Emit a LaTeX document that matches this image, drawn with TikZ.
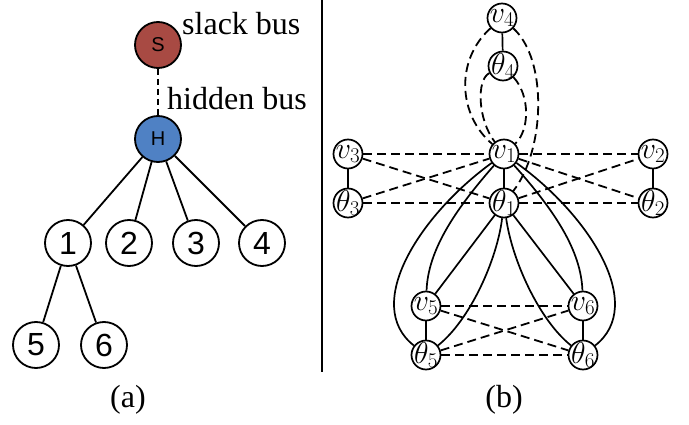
\RequirePackage{fix-cm}
\documentclass[tikz,border=0pt]{standalone}
\usepackage[no-math]{fontspec}
\setmainfont{Liberation Serif}
\newfontfamily\nodesans{Liberation Sans}

\definecolor{slackred}{HTML}{A84A43}
\definecolor{hiddenblue}{HTML}{4F81C4}

\tikzset{
  bus/.style={circle, draw, line width=1.8pt, minimum size=46pt, inner sep=0pt,
              font=\nodesans\fontsize{32}{32}\selectfont},
  letterbus/.style={bus, font=\nodesans\fontsize{20}{20}\selectfont},
  treeedge/.style={line width=1.8pt},
  hiddenedge/.style={line width=1.8pt, dash pattern=on 6pt off 4pt},
  var/.style={circle, draw, fill=white, line width=1.7pt, minimum size=29pt,
              inner sep=-4.5pt, font=\fontsize{30}{30}\selectfont},
  solidlink/.style={line width=1.7pt},
  dashlink/.style={line width=1.8pt, dash pattern=on 9pt off 5pt},
  caption/.style={inner sep=0pt, font=\fontsize{32}{32}\selectfont},
}

\begin{document}
\begin{tikzpicture}[x=1pt, y=-1pt]
\useasboundingbox (0,0) rectangle (689,425);

% ---------- (a): bus tree ----------
\node[letterbus, fill=slackred] (S) at (158,45) {S};
\node[letterbus, fill=hiddenblue] (H) at (158,139) {H};
\node[bus] (n1) at (68,243) {1};
\node[bus] (n2) at (129,243) {2};
\node[bus] (n3) at (196,243) {3};
\node[bus] (n4) at (262,243) {4};
\node[bus] (n5) at (36,345) {5};
\node[bus] (n6) at (104,345) {6};

\node[caption, anchor=base west] (slacklbl) at (182,35) {slack bus};
\node[caption, anchor=base west] (hiddenlbl) at (167,110) {hidden bus};

\draw[hiddenedge] (S) -- (H);
\draw[treeedge] (H) -- (n1);
\draw[treeedge] (H) -- (n2);
\draw[treeedge] (H) -- (n3);
\draw[treeedge] (H) -- (n4);
\draw[treeedge] (n1) -- (n5);
\draw[treeedge] (n1) -- (n6);

\node[caption] (capa) at (128,400) {(a)};

% separator between the two panels
\coordinate (septop) at (322,0);
\coordinate (sepbot) at (322,372);
\draw[line width=1.6pt] (septop) -- (sepbot);

% ---------- (b): variable graph ----------
\node[var] (v4) at (502,18) {$v_4$};
\node[var] (t4) at (503,66) {$\theta_4$};
\node[var] (v1) at (504,154) {$v_1$};
\node[var] (t1) at (504,203) {$\theta_1$};
\node[var] (v3) at (348,154) {$v_3$};
\node[var] (t3) at (348,203) {$\theta_3$};
\node[var] (v2) at (653,154) {$v_2$};
\node[var] (t2) at (653,203) {$\theta_2$};
\node[var] (v5) at (426,306) {$v_5$};
\node[var] (t5) at (426,355) {$\theta_5$};
\node[var] (v6) at (583,306) {$v_6$};
\node[var] (t6) at (583,355) {$\theta_6$};

% pairs of the same bus
\draw[solidlink] (v4) -- (t4);
\draw[solidlink] (v1) -- (t1);
\draw[solidlink] (v3) -- (t3);
\draw[solidlink] (v2) -- (t2);
\draw[solidlink] (v5) -- (t5);
\draw[solidlink] (v6) -- (t6);

% bus 4 to bus 1
\draw[dashlink] (v4) .. controls (455,60) and (458,115) .. (v1);
\draw[dashlink] (t4) .. controls (476,80) and (478,120) .. (v1);
\draw[dashlink] (t4) .. controls (530,95) and (530,130) .. (v1);
\draw[dashlink] (v4) .. controls (548,60) and (545,150) .. (t1);

% buses 3 and 2 to bus 1
\draw[dashlink] (v3) -- (v1);
\draw[dashlink] (t3) -- (t1);
\draw[dashlink] (v3) -- (t1);
\draw[dashlink] (t3) -- (v1);
\draw[dashlink] (v1) -- (v2);
\draw[dashlink] (t1) -- (t2);
\draw[dashlink] (v1) -- (t2);
\draw[dashlink] (t1) -- (v2);

% buses 5 and 6 to each other
\draw[dashlink] (v5) -- (v6);
\draw[dashlink] (t5) -- (t6);
\draw[dashlink] (v5) -- (t6);
\draw[dashlink] (t5) -- (v6);

% bus 1 to bus 5
\draw[solidlink] (v1) .. controls (455,210) and (428,250) .. (v5);
\draw[solidlink] (v1) .. controls (420,215) and (362,305) .. (t5);
\draw[solidlink] (t1) -- (v5);
\draw[solidlink] (t1) .. controls (497,260) and (470,320) .. (t5);

% bus 1 to bus 6
\draw[solidlink] (v1) .. controls (554,210) and (581,250) .. (v6);
\draw[solidlink] (v1) .. controls (589,215) and (647,305) .. (t6);
\draw[solidlink] (t1) -- (v6);
\draw[solidlink] (t1) .. controls (512,260) and (539,320) .. (t6);

\node[caption] (capb) at (504,400) {(b)};
\end{tikzpicture}
\end{document}
